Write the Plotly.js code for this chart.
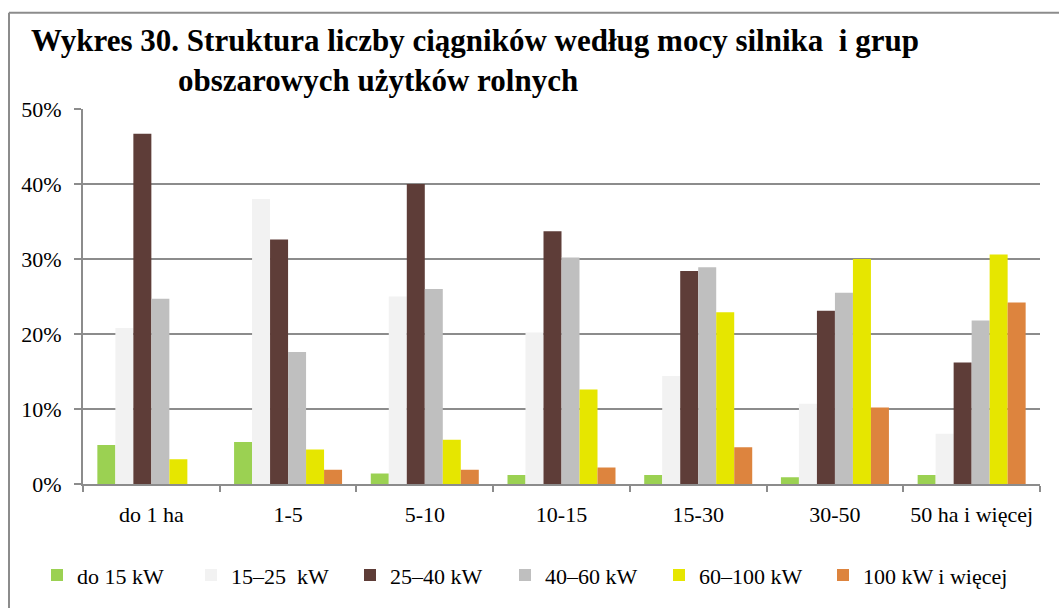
<!DOCTYPE html>
<html>
<head>
<meta charset="utf-8">
<script src="https://cdn.plot.ly/plotly-3.0.1.min.js"></script>
<style>html,body{margin:0;padding:0;background:#fff;}#chart{width:1059px;height:608px;}</style>
</head>
<body>
<div id="chart"></div>
<script>
const categories = ["do 1 ha", "1-5", "5-10", "10-15", "15-30", "30-50", "50 ha i więcej"];
const seriesNames = ["do 15 kW", "15–25  kW", "25–40 kW", "40–60 kW", "60–100 kW", "100 kW i więcej"];
const do15 = [5.2, 5.6, 1.4, 1.2, 1.2, 0.9, 1.2];
const s15_25 = [20.8, 38.0, 25.0, 20.2, 14.4, 10.7, 6.7];
const s25_40 = [46.7, 32.6, 40.0, 33.7, 28.4, 23.1, 16.2];
const s40_60 = [24.7, 17.6, 26.0, 30.2, 28.9, 25.5, 21.8];
const s60_100 = [3.3, 4.6, 5.9, 12.6, 22.9, 30.0, 30.6];
const s100plus = [0, 1.9, 1.9, 2.2, 4.9, 10.2, 24.2];
const colors = ["#9BD152", "#F2F2F2", "#5E3D38", "#BFBFBF", "#E6E600", "#DD843E"];
const yTicks = [0, 10, 20, 30, 40, 50];
const yTickLabels = ["0%", "10%", "20%", "30%", "40%", "50%"];

const W = 1059, H = 608;
const L = 83, R = 19, T = 109, B = 121;
const pw = W - L - R, ph = H - T - B;
const px = x => (x - L) / pw;
const py = y => (H - B - y) / ph;
const serif = "Liberation Serif";
const axisCol = '#8c8c8c';

// pixel left edge of each legend marker in the reference layout
const legendLeft = [52, 206, 365, 520, 674, 838];

const allSeries = [do15, s15_25, s25_40, s40_60, s60_100, s100plus];
const legendIds = ['legend', 'legend2', 'legend3', 'legend4', 'legend5', 'legend6'];
const traces = allSeries.map((vals, i) => ({
  type: 'bar',
  name: seriesNames[i],
  x: categories,
  y: vals,
  legend: legendIds[i],
  marker: {color: colors[i], line: {width: 0}},
  hoverinfo: 'x+y+name'
}));

const layout = {
  width: W, height: H,
  margin: {l: L, r: R, t: T, b: B, pad: 0},
  paper_bgcolor: '#ffffff',
  plot_bgcolor: '#ffffff',
  font: {family: serif, size: 22, color: '#000'},
  barmode: 'group',
  bargap: 0.21,
  bargroupgap: 0,
  title: {
    text: '<b>Wykres 30. Struktura liczby ciągników według mocy silnika  i grup</b>',
    font: {family: serif, size: 31, color: '#000'},
    xref: 'container', yref: 'container',
    x: 31 / W, xanchor: 'left',
    y: 1 - 40 / H, yanchor: 'middle'
  },
  annotations: [{
    text: '<b>obszarowych użytków rolnych</b>',
    font: {family: serif, size: 31, color: '#000'},
    xref: 'paper', yref: 'paper',
    x: px(176), xanchor: 'left',
    y: py(80), yanchor: 'middle',
    showarrow: false
  }],
  xaxis: {
    type: 'category',
    tickson: 'boundaries',
    ticks: 'outside', ticklen: 6, tickwidth: 2, tickcolor: axisCol,
    showline: true, linecolor: axisCol, linewidth: 2,
    showgrid: false, zeroline: false,
    ticklabelstandoff: 10,
    tickfont: {family: serif, size: 22, color: '#000'},
    fixedrange: true
  },
  yaxis: {
    range: [0, 50],
    tickmode: 'array',
    tickvals: yTicks,
    ticktext: yTickLabels,
    ticks: 'outside', ticklen: 7, tickwidth: 2, tickcolor: axisCol,
    showline: true, linecolor: axisCol, linewidth: 2,
    showgrid: true, gridcolor: axisCol, gridwidth: 2,
    zeroline: false,
    ticklabelstandoff: 8,
    tickfont: {family: serif, size: 22, color: '#000'},
    fixedrange: true
  },
  shapes: [
    {type: 'line', xref: 'paper', yref: 'paper', x0: px(9), x1: px(9), y0: py(12), y1: py(620), line: {color: axisCol, width: 2}},
    {type: 'line', xref: 'paper', yref: 'paper', x0: px(9), x1: px(1059), y0: py(12), y1: py(12), line: {color: axisCol, width: 2}}
  ],
  showlegend: true
};

legendIds.forEach((id, i) => {
  layout[id] = {
    orientation: 'h',
    x: px(legendLeft[i] - 15), xanchor: 'left',
    y: py(579), yanchor: 'middle',
    font: {family: serif, size: 22, color: '#000'},
    bgcolor: 'rgba(0,0,0,0)',
    borderwidth: 0
  };
});

Plotly.newPlot('chart', traces, layout, {displayModeBar: false});
</script>
</body>
</html>
